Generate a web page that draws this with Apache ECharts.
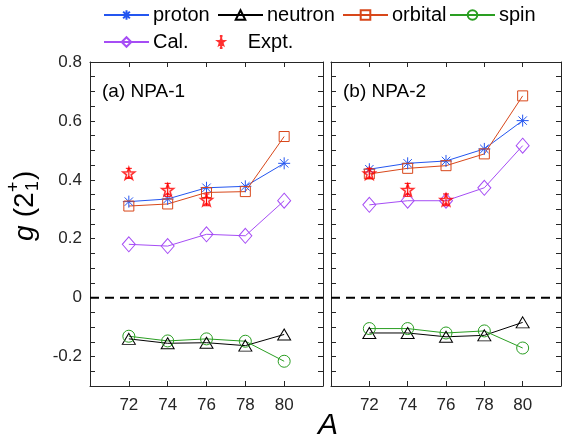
<!DOCTYPE html>
<html>
<head>
<meta charset="utf-8">
<script src="https://cdn.jsdelivr.net/npm/echarts@6/dist/echarts.min.js"></script>
<style>
  html, body { margin: 0; padding: 0; background: #fff; }
  #chart { width: 564px; height: 441px; }
</style>
</head>
<body>
<div id="chart"></div>
<script>
// mass numbers
const massNumbers = [72, 74, 76, 78, 80];
const exptMass = [72, 74, 76];

// (a) NPA-1
const protonA = [0.326, 0.335, 0.373, 0.378, 0.456];
const neutronA = [-0.140, -0.155, -0.153, -0.163, -0.125];
const orbitalA = [0.311, 0.318, 0.357, 0.360, 0.547];
const spinA = [-0.131, -0.147, -0.140, -0.148, -0.216];
const calA = [0.181, 0.175, 0.215, 0.210, 0.329];

// (b) NPA-2
const protonB = [0.436, 0.456, 0.464, 0.505, 0.601];
const neutronB = [-0.120, -0.120, -0.133, -0.128, -0.084];
const orbitalB = [0.420, 0.439, 0.448, 0.488, 0.685];
const spinB = [-0.105, -0.105, -0.120, -0.113, -0.171];
const calB = [0.315, 0.329, 0.329, 0.373, 0.516];

// experiment (same in both panels)
const exptVal = [0.422, 0.366, 0.332];
const exptErr = [0.017, 0.022, 0.02];

const panelTitles = ["(a) NPA-1", "(b) NPA-2"];
const xTicks = [72, 74, 76, 78, 80];

const FONT = "Liberation Sans";
const AX = "#262626";

function starPath() {
    let pts = [];
    for (let i = 0; i < 10; i++) {
        let r = i % 2 === 0 ? 10 : 4;
        let a = -Math.PI / 2 + i * Math.PI / 5;
        pts.push((10 + r * Math.cos(a)).toFixed(2) + "," + (10 + r * Math.sin(a)).toFixed(2));
    }
    return "M" + pts.join("L") + "Z";
}
const STAR = "path://" + starPath();
const STAR_ERR = "path://" + starPath() + "M10,-8L10,28M6,-8L14,-8M6,28L14,28";
const ASTER = "path://M0,5L10,5M5,0L5,10M1.5,1.5L8.5,8.5M1.5,8.5L8.5,1.5";

const colors = {
    proton: "#2456f0",
    neutron: "#000000",
    orbital: "#d8471a",
    spin: "#2a9e22",
    cal: "#a64df5",
    expt: "#ff0000"
};

function pairs(xs, ys) {
    return xs.map((x, i) => [x, ys[i]]);
}

function lineSeries(name, vals, color, symbol, size, idx) {
    return {
        name: name,
        type: "line",
        xAxisIndex: idx * 2,
        yAxisIndex: idx * 2,
        data: pairs(massNumbers, vals),
        symbol: symbol,
        symbolSize: size,
        lineStyle: { color: color, width: 1 },
        itemStyle: { color: "rgba(0,0,0,0)", borderColor: color, borderWidth: 1 },
        emphasis: { disabled: true },
        z: 3
    };
}

let series = [];
let panels = [
    [protonA, neutronA, orbitalA, spinA, calA],
    [protonB, neutronB, orbitalB, spinB, calB]
];
panels.forEach((p, idx) => {
    series.push({
        type: "line",
        xAxisIndex: idx * 2,
        yAxisIndex: idx * 2,
        data: [[70, 0], [82, 0]],
        symbol: "none",
        silent: true,
        lineStyle: { color: "#000", width: 2, type: [9, 6] },
        z: 1
    });
    series.push(lineSeries("proton", p[0], colors.proton, ASTER, 12, idx));
    series.push(lineSeries("neutron", p[1], colors.neutron, "triangle", [13, 11], idx));
    series.push(lineSeries("orbital", p[2], colors.orbital, "rect", 10, idx));
    series.push(lineSeries("spin", p[3], colors.spin, "circle", 12, idx));
    series.push(lineSeries("Cal.", p[4], colors.cal, "diamond", [13, 15], idx));
    series.push({
        name: "Expt.",
        type: "scatter",
        xAxisIndex: idx * 2,
        yAxisIndex: idx * 2,
        data: pairs(exptMass, exptVal),
        symbol: STAR,
        symbolSize: 12,
        itemStyle: { color: "rgba(255,0,0,0.15)", borderColor: colors.expt, borderWidth: 1.5 },
        emphasis: { disabled: true },
        z: 4
    });
    series.push({
        name: "err",
        type: "custom",
        xAxisIndex: idx * 2,
        yAxisIndex: idx * 2,
        data: exptMass.map((x, i) => [x, exptVal[i], exptErr[i]]),
        encode: { x: 0, y: 1 },
        silent: true,
        z: 4,
        renderItem: function (params, api) {
            let x = api.value(0), y = api.value(1), e = api.value(2);
            let top = api.coord([x, y + e]);
            let bot = api.coord([x, y - e]);
            let st = { stroke: colors.expt, lineWidth: 1 };
            return {
                type: "group",
                children: [
                    { type: "line", shape: { x1: top[0], y1: top[1], x2: bot[0], y2: bot[1] }, style: st },
                    { type: "line", shape: { x1: top[0] - 3, y1: top[1], x2: top[0] + 3, y2: top[1] }, style: st },
                    { type: "line", shape: { x1: bot[0] - 3, y1: bot[1], x2: bot[0] + 3, y2: bot[1] }, style: st }
                ]
            };
        }
    });
});

const grids = [
    { left: 90, top: 62, width: 233, height: 324 },
    { left: 331, top: 62, width: 232, height: 324 }
];

let xAxes = [];
let yAxes = [];
grids.forEach((g, idx) => {
    let base = {
        type: "value",
        gridIndex: idx,
        min: 70,
        max: 82,
        interval: 2,
        splitLine: { show: false },
        axisLine: { onZero: false, lineStyle: { color: AX, width: 1 } },
        axisTick: { inside: true, length: 5, lineStyle: { color: AX } }
    };
    xAxes.push(Object.assign({}, base, {
        position: "bottom",
        axisLabel: {
            margin: 11,
            fontSize: 17,
            fontFamily: FONT,
            color: AX,
            formatter: v => (xTicks.indexOf(v) >= 0 ? String(v) : "")
        }
    }));
    xAxes.push(Object.assign({}, base, {
        position: "top",
        axisLabel: { show: false }
    }));
    let ybase = {
        type: "value",
        gridIndex: idx,
        min: -0.3,
        max: 0.8,
        interval: 0.05,
        splitLine: { show: false },
        axisLine: { onZero: false, lineStyle: { color: AX, width: 1 } },
        axisTick: { inside: true, length: 5, lineStyle: { color: AX } }
    };
    yAxes.push(Object.assign({}, ybase, {
        position: "left",
        axisLabel: {
            show: idx === 0,
            margin: 8,
            fontSize: 17,
            fontFamily: FONT,
            color: AX,
            formatter: function (v) {
                let k = v / 0.2;
                if (Math.abs(k - Math.round(k)) > 1e-6) return "";
                let r = Math.round(v * 10) / 10;
                return r === 0 ? "0" : String(r);
            }
        }
    }));
    yAxes.push(Object.assign({}, ybase, {
        position: "right",
        axisLabel: { show: false }
    }));
});

function legendItem(name, left, top, icon) {
    let l = {
        data: [icon ? { name: name, icon: icon } : name],
        left: left,
        top: top,
        itemWidth: 45,
        itemHeight: 12,
        itemGap: 0,
        padding: 0,
        selectedMode: false,
        textStyle: { fontSize: 20, fontFamily: FONT, color: "#000", padding: [0, 0, 0, -1] }
    };
    return l;
}

let chart = echarts.init(document.getElementById("chart"), null, { renderer: "canvas" });
let option = {
    animation: false,
    backgroundColor: "#fff",
    grid: grids,
    xAxis: xAxes,
    yAxis: yAxes,
    legend: [
        legendItem("proton", 103, 5),
        legendItem("neutron", 217, 5),
        legendItem("orbital", 342, 5),
        legendItem("spin", 449, 5),
        legendItem("Cal.", 103, 32),
        legendItem("Expt.", 217, 32, STAR_ERR)
    ],
    graphic: [
        {
            type: "text",
            left: 102,
            top: 82,
            style: { text: panelTitles[0], font: "19px " + FONT, fill: "#000" }
        },
        {
            type: "text",
            left: 343,
            top: 82,
            style: { text: panelTitles[1], font: "19px " + FONT, fill: "#000" }
        },
        {
            type: "text",
            left: 318,
            top: 411,
            style: { text: "A", font: "italic 30px " + FONT, fill: "#000" }
        },
        {
            type: "group",
            x: 25,
            y: 203,
            rotation: Math.PI / 2,
            children: [
                { type: "text", x: -38, y: 0, style: { text: "g", font: "italic 28px " + FONT, fill: "#000", verticalAlign: "middle" } },
                { type: "text", x: -22, y: 0, style: { text: " (2", font: "28px " + FONT, fill: "#000", verticalAlign: "middle" } },
                { type: "text", x: 11, y: -11, style: { text: "+", font: "18px " + FONT, fill: "#000", verticalAlign: "middle" } },
                { type: "text", x: 12, y: 8, style: { text: "1", font: "18px " + FONT, fill: "#000", verticalAlign: "middle" } },
                { type: "text", x: 23, y: 0, style: { text: ")", font: "28px " + FONT, fill: "#000", verticalAlign: "middle" } }
            ]
        }
    ],
    series: series
};
chart.setOption(option);
</script>
</body>
</html>
